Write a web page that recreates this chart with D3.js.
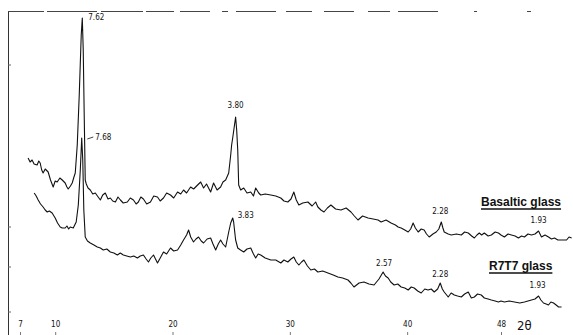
<!DOCTYPE html>
<html>
<head>
<meta charset="utf-8">
<script src="https://cdn.jsdelivr.net/npm/d3@7"></script>
<style>
  html, body { margin: 0; padding: 0; background: #fff; }
  svg { display: block; }
  .pk { font: 8px "DejaVu Sans Condensed", "Liberation Sans", sans-serif; fill: #111; }
  .tk text { font: 8px "DejaVu Sans Condensed", "Liberation Sans", sans-serif; fill: #111; }
  .lbl { font: bold 12px "Liberation Sans", "DejaVu Sans", sans-serif; fill: #111; }
</style>
</head>
<body>
<svg id="chart"></svg>
<script>
// 2theta (deg) vs intensity (arbitrary units)
const basalticGlass = [
  [7.69,162],[7.86,158],[8.03,160],[8.2,156],[8.46,155],[8.6,159],[8.72,157],[8.85,150],[8.97,147],[9.15,151],
  [9.4,148],[9.6,140],[9.83,133],[10.0,139],[10.17,138],[10.4,142],[10.6,140],[10.85,137],[11.0,133],[11.11,131],
  [11.3,134],[11.45,137],[11.6,143],[11.71,147],[11.88,175],[12.05,225],[12.22,285],[12.31,302],[12.39,270],
  [12.48,200],[12.56,140],[12.65,136],[12.8,132],[12.99,130],[13.2,126],[13.42,127],[13.6,124],[13.85,120],
  [14.05,125],[14.27,127],[14.5,121],[14.7,122],[14.9,119],[15.13,118],[15.35,123],[15.56,120],[15.8,117],
  [16.15,118],[16.4,122],[16.67,120],[16.9,116],[17.09,118],[17.3,123],[17.52,121],[17.8,116],[18.12,118],
  [18.4,124],[18.72,123],[18.95,119],[19.23,122],[19.5,127],[19.83,125],[20.1,122],[20.43,128],[20.7,126],
  [20.94,130],[21.2,127],[21.54,133],[21.8,131],[22.14,135],[22.4,138],[22.65,132],[22.9,136],[23.25,128],
  [23.5,137],[23.8,130],[24.1,133],[24.3,138],[24.53,140],[24.79,147],[24.96,165],[25.04,175],[25.13,182],
  [25.26,193],[25.38,203],[25.47,190],[25.56,170],[25.64,135],[25.81,130],[26.07,132],[26.35,127],[26.67,128],
  [26.9,124],[27.09,132],[27.35,127],[27.52,125],[27.9,126],[28.38,125],[28.8,124],[29.23,122],[29.5,119],
  [29.83,118],[30.1,121],[30.34,128],[30.55,120],[30.77,115],[31.1,117],[31.54,118],[31.9,114],[32.2,118],
  [32.39,113],[32.65,110],[32.91,108],[33.2,112],[33.5,115],[33.9,111],[34.36,110],[34.8,112],[35.21,108],
  [35.5,104],[35.81,100],[36.2,104],[36.67,102],[37.1,101],[37.52,100],[37.78,98],[38.2,100],[38.63,97],
  [39.0,95],[39.23,93],[39.49,92],[39.8,90],[40.09,88],[40.3,91],[40.51,97],[40.7,92],[40.94,88],[41.2,91],
  [41.45,90],[41.65,86],[41.88,83],[42.2,86],[42.48,88],[42.7,91],[42.91,98],[43.05,92],[43.16,88],[43.5,86],
  [43.76,85],[44.2,86],[44.62,85],[44.9,88],[45.21,87],[45.5,84],[45.73,82],[45.95,85],[46.15,87],[46.35,85],
  [46.58,87],[46.9,84],[47.18,85],[47.5,88],[47.78,87],[48.0,85],[48.29,83],[48.6,86],[48.89,85],[49.2,84],
  [49.49,82],[49.75,84],[50.0,83],[50.3,86],[50.6,85],[50.9,86],[51.2,89],[51.45,83],[51.75,85],[52.05,83],
  [52.3,81],[52.56,82],[52.85,80],[53.16,80],[53.59,80],[53.8,83],[54.02,82]
];
const r7t7Glass = [
  [8.21,127],[8.38,124],[8.55,120],[8.75,116],[8.97,113],[9.15,110],[9.32,108],[9.5,109],[9.74,107],[10.0,102],
  [10.2,97],[10.43,93],[10.6,92],[10.85,92],[11.0,94],[11.15,91],[11.28,93],[11.54,92],[11.79,98],[11.97,115],
  [12.14,150],[12.26,182],[12.35,160],[12.44,110],[12.56,83],[12.75,79],[12.99,77],[13.3,75],[13.59,73],
  [13.85,72],[14.1,70],[14.4,71],[14.7,68],[15.0,67],[15.3,65],[15.55,67],[15.81,65],[16.1,64],[16.41,63],
  [16.7,64],[17.01,62],[17.25,64],[17.52,65],[17.75,61],[17.95,58],[18.15,62],[18.38,65],[18.55,61],
  [18.72,57],[19.0,63],[19.23,68],[19.5,66],[19.83,72],[20.1,69],[20.43,70],[20.7,75],[20.94,80],[21.2,85],
  [21.37,90],[21.55,83],[21.79,78],[22.0,81],[22.22,83],[22.45,79],[22.65,77],[22.95,81],[23.25,82],
  [23.45,76],[23.68,70],[23.9,76],[24.1,80],[24.3,76],[24.53,73],[24.79,88],[24.96,97],[25.13,102],[25.21,98],
  [25.38,80],[25.56,72],[25.8,70],[26.07,68],[26.35,71],[26.67,72],[26.9,66],[27.09,62],[27.3,66],[27.52,65],
  [27.9,62],[28.38,60],[28.8,60],[29.23,57],[29.5,60],[29.83,58],[30.1,61],[30.34,63],[30.55,58],[30.77,55],
  [31.0,58],[31.2,60],[31.5,54],[31.79,50],[32.1,51],[32.39,48],[32.8,49],[33.25,47],[33.7,45],[34.1,43],
  [34.5,42],[34.96,40],[35.2,37],[35.47,33],[35.9,37],[36.32,38],[36.75,36],[37.18,35],[37.6,41],[37.95,48],
  [38.15,44],[38.38,42],[38.6,38],[38.89,35],[39.2,36],[39.49,33],[39.8,32],[40.09,30],[40.35,33],[40.6,32],
  [40.9,29],[41.2,27],[41.5,31],[41.79,30],[42.05,31],[42.31,28],[42.6,31],[42.82,37],[43.0,31],[43.16,28],
  [43.5,23],[43.75,27],[44.02,25],[44.3,24],[44.62,23],[44.9,26],[45.21,28],[45.47,22],[45.73,23],[46.0,26],
  [46.32,25],[46.58,22],[46.9,21],[47.18,20],[47.5,19],[47.78,18],[48.0,19],[48.29,18],[48.7,19],[49.15,18],
  [49.6,17],[50.0,18],[50.3,19],[50.6,20],[50.9,21],[51.2,24],[51.4,20],[51.62,17],[51.85,16],[52.05,15],
  [52.25,18],[52.48,17],[52.7,15],[52.91,13],[53.16,13]
];
const tickValues = [7, 10, 20, 30, 40, 48];
const tickLabels = ['7', '10', '20', '30', '40', '48'];
// d-spacing labels (A) placed at their peak
const peakLabels = [
  {name: '7.62', t: 12.31, i: 302, dx: 6, dy: 2, anchor: 'start'},
  {name: '3.80', t: 25.38, i: 203, dx: 0, dy: -9, anchor: 'middle'},
  {name: '2.28', t: 42.91, i: 98,  dx: -1, dy: -8, anchor: 'middle'},
  {name: '1.93', t: 51.2,  i: 89,  dx: 0, dy: -8, anchor: 'middle'},
  {name: '7.68', t: 12.31, i: 182, dx: 13, dy: 2, anchor: 'start', leader: true},
  {name: '3.83', t: 25.13, i: 102, dx: 5, dy: 0, anchor: 'start'},
  {name: '2.57', t: 37.95, i: 48,  dx: 1, dy: -6, anchor: 'middle'},
  {name: '2.28', t: 42.82, i: 37,  dx: 0, dy: -6, anchor: 'middle'},
  {name: '1.93', t: 51.2,  i: 24,  dx: -1, dy: -8, anchor: 'middle'}
];
const seriesNames = ['Basaltic glass', 'R7T7 glass'];

const width = 573, height = 335;
const svg = d3.select('#chart').attr('width', width).attr('height', height);

const x = d3.scaleLinear().domain([7, 48]).range([20, 501]);
const y = d3.scaleLinear().domain([0, 310]).range([320, 10]);

/*frame: left edge and broken top rule of the scan*/
svg.append('line')
  .attr('x1', 8.5).attr('x2', 8.5).attr('y1', 11).attr('y2', height)
  .attr('stroke', '#333').attr('stroke-width', 1);
svg.append('line')
  .attr('x1', 8).attr('x2', width).attr('y1', 11.5).attr('y2', 11.5)
  .attr('stroke', '#444').attr('stroke-width', 1)
  .attr('stroke-dasharray', '36 3 50 4 42 3 28 6 30 12 6 8 40 10 26 12 30 14 22 8 40');
// small marks on left edge
[65, 227, 267, 312].forEach(v => {
  svg.append('line').attr('x1', 8).attr('x2', 11).attr('y1', v).attr('y2', v)
    .attr('stroke', '#666');
});

/*axis labels*/
const axis = d3.axisBottom(x).tickValues(tickValues)
  .tickFormat((d, i) => tickLabels[i]).tickSize(0).tickPadding(0);
const gx = svg.append('g').attr('class', 'tk').attr('transform', 'translate(0,321)').call(axis);
gx.select('.domain').remove();
gx.selectAll('.tick').append('line')
  .attr('y1', 11).attr('y2', 14).attr('stroke', '#777');
svg.append('text')
  .attr('x', 517).attr('y', 330)
  .style('font', '13px "DejaVu Sans Condensed", "Liberation Sans", sans-serif')
  .attr('fill', '#111')
  .text('2θ');

/*traces*/
const line = d3.line().x(d => x(d[0])).y(d => y(d[1]));
[basalticGlass, r7t7Glass].forEach(s => {
  svg.append('path')
    .datum(s)
    .attr('d', line)
    .attr('fill', 'none')
    .attr('stroke', '#111')
    .attr('stroke-width', 1.1)
    .attr('stroke-linejoin', 'round');
});

/*peak labels*/
peakLabels.forEach(p => {
  const px = x(p.t), py = y(p.i);
  svg.append('text').attr('class', 'pk')
    .attr('x', px + p.dx).attr('y', py + p.dy)
    .attr('text-anchor', p.anchor)
    .text(p.name);
  if (p.leader) {
    svg.append('line')
      .attr('x1', px + 5).attr('x2', px + 11)
      .attr('y1', py + 1).attr('y2', py - 1)
      .attr('stroke', '#111').attr('stroke-width', 0.8);
  }
});

/*series names, underlined*/
const namePos = [{x: 481, y: 206}, {x: 489, y: 270}];
seriesNames.forEach((n, i) => {
  const t = svg.append('text').attr('class', 'lbl')
    .attr('x', namePos[i].x).attr('y', namePos[i].y).text(n);
  const w = t.node().getComputedTextLength();
  svg.append('line')
    .attr('x1', namePos[i].x).attr('x2', namePos[i].x + w)
    .attr('y1', namePos[i].y + 3).attr('y2', namePos[i].y + 3)
    .attr('stroke', '#111').attr('stroke-width', 1.3);
});
</script>
</body>
</html>
